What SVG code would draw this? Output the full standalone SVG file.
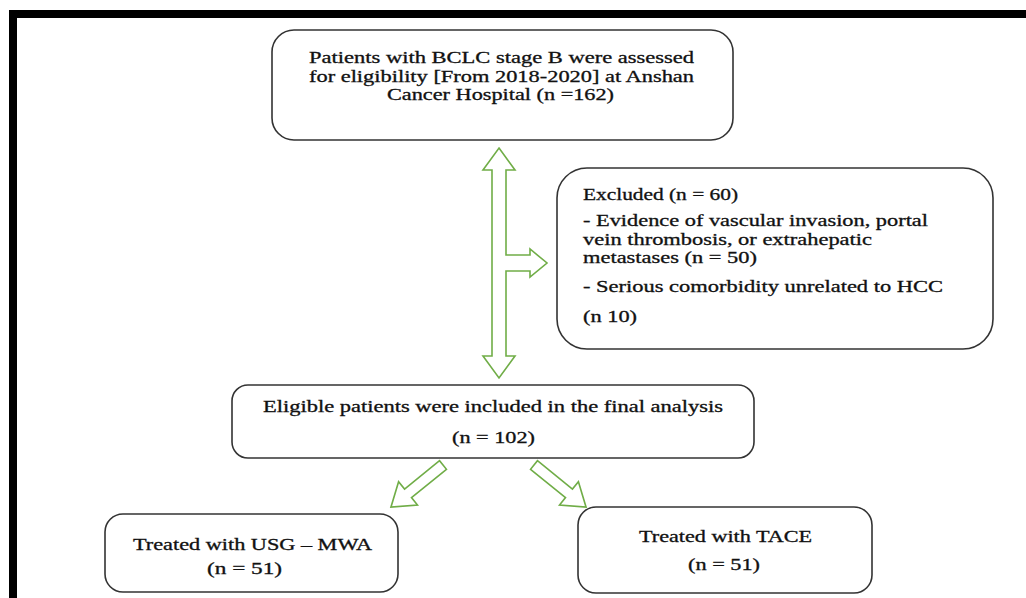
<svg xmlns="http://www.w3.org/2000/svg" width="1026" height="598" viewBox="0 0 1026 598">
<style>
.box{fill:#fff;stroke:#333;stroke-width:1.6}
.arr{fill:#fff;stroke:#70ad47;stroke-width:1.6;stroke-linejoin:miter}
text{font-family:"Liberation Serif","Times New Roman",serif;font-size:16px;fill:#111;stroke:#111;stroke-width:0.3}
</style>
<rect x="0" y="0" width="1026" height="598" fill="#fff"/>
<g id="frame">
<rect x="9" y="10" width="1017" height="8" fill="#000"/>
<rect x="9" y="10" width="8" height="588" fill="#000"/>
</g>
<g id="connectors">
<path class="arr" d="M499,148 L515,170 L506,170 L506,255 L530,255 L530,249 L547,263 L530,277 L530,271 L506,271 L506,356 L515,356 L499,378 L483,356 L492,356 L492,170 L483,170 Z"/>
<path class="arr" transform="translate(443,465) rotate(141)" d="M0,-5.5 L45,-5.5 L45,-15 L67,0 L45,15 L45,5.5 L0,5.5 Z"/>
<path class="arr" transform="translate(534,465) rotate(39)" d="M0,-5.5 L45,-5.5 L45,-15 L67,0 L45,15 L45,5.5 L0,5.5 Z"/>
</g>
<g id="n-assessed">
<rect class="box" x="272" y="30" width="461" height="110" rx="22"/>
<text x="309" y="63" textLength="385" lengthAdjust="spacingAndGlyphs">Patients with BCLC stage B were assessed</text>
<text x="309" y="81.5" textLength="385" lengthAdjust="spacingAndGlyphs">for eligibility [From 2018-2020] at Anshan</text>
<text x="387" y="100" textLength="227" lengthAdjust="spacingAndGlyphs">Cancer Hospital (n =162)</text>
</g>
<g id="n-excluded">
<rect class="box" x="557" y="168" width="436" height="181" rx="30"/>
<text x="583" y="200" textLength="155" lengthAdjust="spacingAndGlyphs">Excluded (n = 60)</text>
<text x="583" y="226" textLength="345" lengthAdjust="spacingAndGlyphs">- Evidence of vascular invasion, portal</text>
<text x="583" y="244.5" textLength="289" lengthAdjust="spacingAndGlyphs">vein thrombosis, or extrahepatic</text>
<text x="583" y="263" textLength="174" lengthAdjust="spacingAndGlyphs">metastases (n = 50)</text>
<text x="583" y="292" textLength="360" lengthAdjust="spacingAndGlyphs">- Serious comorbidity unrelated to HCC</text>
<text x="583" y="322" textLength="54" lengthAdjust="spacingAndGlyphs">(n 10)</text>
</g>
<g id="n-eligible">
<rect class="box" x="232" y="385" width="522" height="73" rx="16"/>
<text x="263" y="412" textLength="460" lengthAdjust="spacingAndGlyphs">Eligible patients were included in the final analysis</text>
<text x="452" y="443" textLength="83" lengthAdjust="spacingAndGlyphs">(n = 102)</text>
</g>
<g id="n-mwa">
<rect class="box" x="105" y="514" width="293" height="78" rx="18"/>
<text x="133" y="550" textLength="239" lengthAdjust="spacingAndGlyphs">Treated with USG – MWA</text>
<text x="207" y="574" textLength="75" lengthAdjust="spacingAndGlyphs">(n = 51)</text>
</g>
<g id="n-tace">
<rect class="box" x="578" y="507" width="294" height="86" rx="18"/>
<text x="639" y="542" textLength="173" lengthAdjust="spacingAndGlyphs">Treated with TACE</text>
<text x="688" y="570" textLength="72" lengthAdjust="spacingAndGlyphs">(n = 51)</text>
</g>
</svg>
